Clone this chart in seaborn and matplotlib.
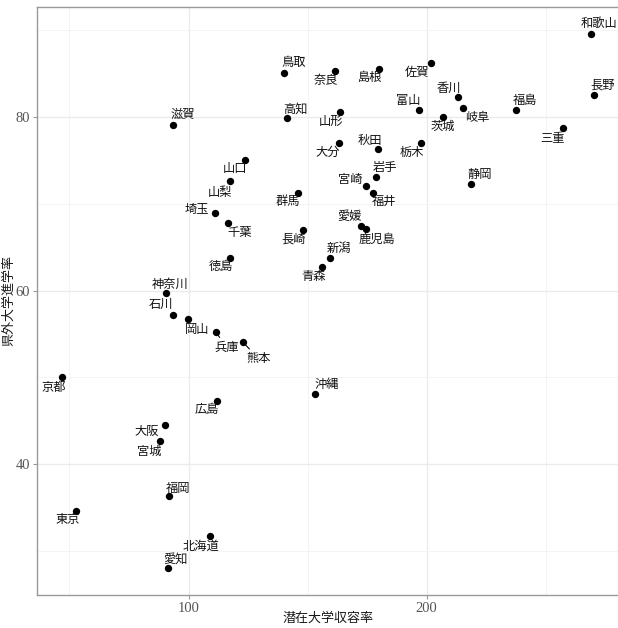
import pandas as pd
import matplotlib
matplotlib.use("Agg")
import matplotlib.pyplot as plt
import seaborn as sns

# 都道府県ごとの値
prefs = ['北海道', '青森', '岩手', '宮城', '秋田', '山形', '福島', '茨城', '栃木', '群馬',
         '埼玉', '千葉', '東京', '神奈川', '新潟', '富山', '石川', '福井', '山梨', '長野',
         '岐阜', '静岡', '愛知', '三重', '滋賀', '京都', '大阪', '兵庫', '奈良', '和歌山',
         '鳥取', '島根', '岡山', '広島', '山口', '徳島', '香川', '愛媛', '高知', '福岡',
         '佐賀', '長崎', '熊本', '大分', '宮崎', '鹿児島', '沖縄']
capacity = [109.0, 156.2, 178.9, 88.1, 179.7, 163.5, 237.6, 207.0, 197.5, 146.0,
            111.1, 116.7, 52.8, 90.5, 159.5, 196.6, 93.3, 177.6, 117.4, 270.2,
            215.1, 218.4, 91.3, 257.0, 93.6, 47.1, 90.2, 111.6, 161.4, 268.9,
            140.2, 180.1, 99.7, 112.1, 123.8, 117.5, 213.2, 172.4, 141.3, 91.6,
            201.6, 147.9, 122.7, 163.3, 174.4, 174.5, 153.2]
outflow = [31.7, 62.7, 73.1, 42.7, 76.3, 80.6, 80.8, 80.0, 77.0, 71.3,
           68.9, 67.75, 34.6, 59.7, 63.8, 80.8, 57.15, 71.3, 72.6, 82.6,
           81.1, 72.25, 28.0, 78.7, 79.1, 50.0, 44.5, 55.2, 85.3, 89.6,
           85.1, 85.6, 56.7, 47.3, 75.1, 63.8, 82.3, 67.4, 79.9, 36.3,
           86.2, 67.0, 54.1, 77.0, 72.05, 67.1, 48.1]

# ラベルのずらし量（ピクセル, 右・下が正）
offsets = {
    '鳥取': (9, -10), '高知': (9, -9), '滋賀': (10, -10), '山口': (-10, 9),
    '山梨': (-10, 11), '群馬': (-10, 9), '埼玉': (-18, -4), '千葉': (11, 9),
    '長崎': (-9, 9), '徳島': (-9, 9), '神奈川': (4, -9), '石川': (-12, -11),
    '岡山': (9, 10), '兵庫': (10, 15), '熊本': (16, 17), '京都': (-9, 10),
    '広島': (-10, 9), '大阪': (-18, 6), '宮城': (-11, 11), '福岡': (9, -8),
    '東京': (-8, 9), '北海道': (-9, 10), '愛知': (8, -9), '沖縄': (11, -9),
    '和歌山': (8, -10), '長野': (9, -10), '佐賀': (-14, 9), '島根': (-9, 9),
    '奈良': (-9, 9), '山形': (-9, 9), '富山': (-10, -10), '香川': (-9, -9),
    '岐阜': (15, 10), '茨城': (-1, 9), '福島': (9, -10), '三重': (-10, 10),
    '大分': (-12, 9), '秋田': (-8, -9), '栃木': (-9, 9), '岩手': (9, -9),
    '宮崎': (-16, -7), '福井': (11, 9), '静岡': (9, -10), '愛媛': (-11, -10),
    '鹿児島': (11, 10), '新潟': (9, -9), '青森': (-9, 9),
}
leader = ['兵庫', '熊本']

df = pd.DataFrame({'pref': prefs, 'x': capacity, 'y': outflow})

sns.set_theme(style="white")
plt.rcParams['font.family'] = ['Noto Sans CJK JP', 'DejaVu Sans']

W, H = 618, 628
fig = plt.figure(figsize=(W / 100, H / 100), dpi=100)
ax = fig.add_axes([37 / W, (H - 595) / H, (W - 37) / W + 0.002, (595 - 7) / H])

sns.scatterplot(data=df, x='x', y='y', ax=ax, color='black', s=28,
                edgecolor='black', linewidth=0, zorder=3)

for p, x, y in zip(prefs, capacity, outflow):
    dx, dy = offsets[p]
    kw = {}
    if p in leader:
        kw['arrowprops'] = dict(arrowstyle='-', color='black', lw=0.8,
                                shrinkA=0, shrinkB=0)
    ax.annotate(p, (x, y), xytext=(dx * 0.72, -dy * 0.72),
                textcoords='offset points', ha='center', va='center',
                fontsize=8.8, color='#111111', zorder=4, **kw)

ax.set_xlim(36.4, 280.8)
ax.set_ylim(24.9, 92.7)
ax.set_xticks([100, 200])
ax.set_yticks([40, 60, 80])
ax.set_xticks([50, 150, 250], minor=True)
ax.set_yticks([30, 50, 70, 90], minor=True)
ax.grid(True, which='major', color='#ebebeb', linewidth=1.0)
ax.grid(True, which='minor', color='#f3f3f3', linewidth=0.6)
ax.set_axisbelow(True)

for s in ax.spines.values():
    s.set_color('#999999')
    s.set_linewidth(1.0)

ax.tick_params(axis='both', which='major', length=3, width=0.8, color='#999999',
               labelcolor='#555555', labelsize=10.5, pad=2, left=True, bottom=True)
ax.tick_params(axis='both', which='minor', length=0)
for lab in ax.get_xticklabels() + ax.get_yticklabels():
    lab.set_family(['Liberation Serif', 'DejaVu Serif'])

ax.set_xlabel('潜在大学収容率', fontsize=9.4, color='#1a1a1a')
ax.set_ylabel('県外大学進学率', fontsize=9.4, color='#1a1a1a')
ax.xaxis.set_label_coords(0.5, -(612 - 595) / 588)
ax.yaxis.set_label_coords(-(37 - 15) / 581, 0.5)

fig.savefig('out.png', dpi=100)
